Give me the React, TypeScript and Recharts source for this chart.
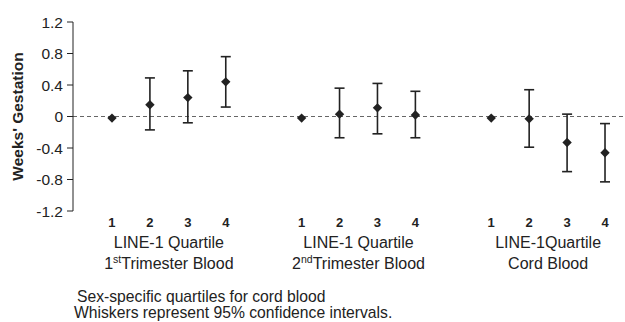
import React from "react";
import { ScatterChart, Scatter, XAxis, YAxis, ErrorBar, ReferenceLine } from "recharts";

// ---- data ----
const quartiles = ["1", "2", "3", "4"];
const groupLine1 = ["LINE-1 Quartile", "LINE-1 Quartile", "LINE-1Quartile"];
const groupOrdinal = ["1", "2", ""];
const groupSup = ["st", "nd", ""];
const groupLine2 = ["Trimester Blood", "Trimester Blood", "Cord Blood"];

const est1st = [-0.02, 0.15, 0.24, 0.44];
const low1st = [null, -0.17, -0.08, 0.12];
const up1st = [null, 0.49, 0.58, 0.76];

const est2nd = [-0.02, 0.03, 0.11, 0.02];
const low2nd = [null, -0.27, -0.22, -0.27];
const up2nd = [null, 0.36, 0.42, 0.32];

const estCord = [-0.02, -0.03, -0.33, -0.46];
const lowCord = [null, -0.39, -0.7, -0.83];
const upCord = [null, 0.34, 0.03, -0.09];

const yTicks = [-1.2, -0.8, -0.4, 0, 0.4, 0.8, 1.2];
const footnotes = [
  "Sex-specific quartiles for cord blood",
  "Whiskers represent 95% confidence intervals.",
];

const groups = [
  { est: est1st, low: low1st, up: up1st },
  { est: est2nd, low: low2nd, up: up2nd },
  { est: estCord, low: lowCord, up: upCord },
];

const GROUP_STEP = 5;
const data = groups.flatMap((g, gi) =>
  g.est.map((e, qi) => ({
    x: gi * GROUP_STEP + qi,
    y: e,
    q: quartiles[qi],
    err: g.low[qi] == null ? null : [e - (g.low[qi] as number), (g.up[qi] as number) - e],
  }))
);
const quartileTicks = data.map((d) => d.x);
const groupTicks = groups.map((_, gi) => gi * GROUP_STEP + 1.5);
const allTicks = [...quartileTicks, ...groupTicks].sort((a, b) => a - b);

const FONT = "'Liberation Sans', Arial, Helvetica, sans-serif";
const INK = "#222";
const X_DOMAIN: [number, number] = [-1.028, 13.527];

const Diamond = (props: any) => {
  const { cx, cy } = props;
  if (cx == null || cy == null) return null;
  const r = 4.7;
  return (
    <polygon
      points={`${cx},${cy - r} ${cx + r},${cy} ${cx},${cy + r} ${cx - r},${cy}`}
      fill={INK}
    />
  );
};

const XTick = (props: any) => {
  const { x, y, payload } = props;
  const gi = groupTicks.indexOf(payload.value);
  if (gi >= 0) {
    return (
      <g>
        <text x={x} y={y + 37} textAnchor="middle" fontFamily={FONT} fontSize={16} fill={INK}>
          {groupLine1[gi]}
        </text>
        <text x={x} y={y + 58} textAnchor="middle" fontFamily={FONT} fontSize={16} fill={INK}>
          {groupOrdinal[gi]}
          {groupSup[gi] ? (
            <tspan fontSize={10.5} dy={-6}>
              {groupSup[gi]}
            </tspan>
          ) : null}
          {groupSup[gi] ? <tspan dy={6}>{groupLine2[gi]}</tspan> : groupLine2[gi]}
        </text>
      </g>
    );
  }
  const d = data.find((p) => p.x === payload.value);
  return (
    <text x={x} y={y + 16} textAnchor="middle" fontFamily={FONT} fontSize={13} fontWeight="bold" fill={INK}>
      {d ? d.q : ""}
    </text>
  );
};

const YLabel = (props: any) => {
  const vb = props.viewBox || {};
  const cx = (vb.x ?? 0) + 17.5;
  const cy = (vb.y ?? 0) + (vb.height ?? 0) / 2;
  return (
    <text
      x={cx}
      y={cy}
      transform={`rotate(-90, ${cx}, ${cy})`}
      textAnchor="middle"
      dominantBaseline="central"
      fontFamily={FONT}
      fontSize={15.5}
      fontWeight="bold"
      fill={INK}
    >
      Weeks' Gestation
    </text>
  );
};

export default function App() {
  return (
    <div style={{ position: "absolute", left: 0, top: 0, width: 625, height: 322, background: "#fff" }}>
      <ScatterChart width={625} height={322} margin={{ top: 22, right: 0, bottom: 31, left: 0 }}>
        <XAxis
          dataKey="x"
          type="number"
          domain={X_DOMAIN}
          ticks={allTicks}
          interval={0}
          axisLine={false}
          tickLine={false}
          tickSize={0}
          tickMargin={0}
          height={80}
          tick={<XTick />}
        />
        <YAxis
          dataKey="y"
          type="number"
          domain={[-1.2, 1.2]}
          ticks={yTicks}
          interval={0}
          allowDataOverflow
          width={73}
          tickSize={6}
          tickMargin={4}
          axisLine={{ stroke: INK, strokeWidth: 1 }}
          tickLine={{ stroke: INK, strokeWidth: 1 }}
          tick={{ fontFamily: FONT, fontSize: 15.5, fill: INK }}
          tickFormatter={(v: number) => (v === 0 ? "0" : v.toFixed(1))}
          label={{ content: <YLabel /> }}
        />
        <ReferenceLine y={0} stroke="#666" strokeWidth={1.2} strokeDasharray="4 3" />
        <Scatter data={data} dataKey="y" shape={<Diamond />} isAnimationActive={false}>
          <ErrorBar dataKey="err" direction="y" width={5} stroke={INK} strokeWidth={1.6} isAnimationActive={false} />
        </Scatter>
      </ScatterChart>
      {footnotes.map((t, i) => (
        <div
          key={i}
          style={{
            position: "absolute",
            left: i === 0 ? 77 : 74,
            top: 289 + i * 15.5,
            fontFamily: FONT,
            fontSize: 15.7,
            lineHeight: "15px",
            color: INK,
            whiteSpace: "nowrap",
          }}
        >
          {t}
        </div>
      ))}
    </div>
  );
}
